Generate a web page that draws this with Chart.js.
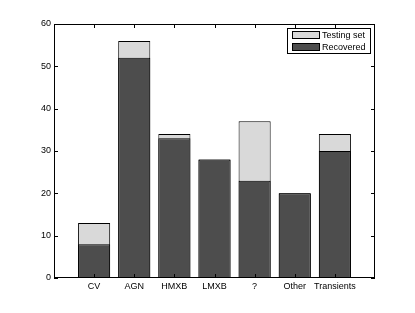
<!DOCTYPE html>
<html>
<head>
<meta charset="utf-8">
<script src="https://cdn.jsdelivr.net/npm/chart.js@4"></script>
<style>
  html, body { margin: 0; padding: 0; background: #fff; }
  #wrap { width: 415px; height: 313px; }
</style>
</head>
<body>
<div id="wrap"><canvas id="myChart" width="415" height="313"></canvas></div>
<script>
const categories = ['CV', 'AGN', 'HMXB', 'LMXB', '?', 'Other', 'Transients']
const testingSet = [13, 56, 34, 28, 37, 20, 34]
const recovered = [8, 52, 33, 28, 23, 20, 30]
const yTicks = [0, 10, 20, 30, 40, 50, 60]

const font = { family: 'Liberation Sans, Arial, sans-serif', size: 9 }

// frame + inward ticks, matlab style
const framePlugin = {
    id: 'frame',
    afterDraw(chart) {
        const { ctx, chartArea: a, scales } = chart
        ctx.save()
        ctx.strokeStyle = '#000'
        ctx.lineWidth = 1
        ctx.strokeRect(a.left + 0.5, a.top + 0.5, a.right - a.left - 1, a.bottom - a.top - 1)
        ctx.beginPath()
        yTicks.forEach(v => {
            const y = Math.round(scales.y.getPixelForValue(v)) + 0.5
            ctx.moveTo(a.left, y); ctx.lineTo(a.left + 4, y)
            ctx.moveTo(a.right, y); ctx.lineTo(a.right - 4, y)
        })
        categories.forEach((c, i) => {
            const x = Math.round(scales.x.getPixelForValue(i + 1)) + 0.5
            ctx.moveTo(x, a.bottom); ctx.lineTo(x, a.bottom - 4)
            ctx.moveTo(x, a.top); ctx.lineTo(x, a.top + 4)
        })
        ctx.stroke()

        // legend box inside plot, top right
        const bw = 84, bh = 26
        const bx = a.right - 4 - bw, by = a.top + 4
        ctx.fillStyle = '#fff'
        ctx.fillRect(bx, by, bw, bh)
        ctx.strokeRect(bx + 0.5, by + 0.5, bw - 1, bh - 1)
        ctx.font = font.size + 'px ' + font.family
        ctx.textBaseline = 'middle'
        chart.data.datasets.forEach((ds, i) => {
            const cy = by + 7 + i * 12
            ctx.fillStyle = ds.backgroundColor
            ctx.fillRect(bx + 5, cy - 4, 28, 8)
            ctx.strokeRect(bx + 5.5, cy - 3.5, 27, 7)
            ctx.fillStyle = '#000'
            ctx.fillText(ds.label, bx + 35, cy + 0.5)
        })
        ctx.restore()
    }
}

const data = {
    datasets: [{
        label: 'Testing set',
        data: testingSet.map((v, i) => ({ x: i + 1, y: v })),
        backgroundColor: '#d9d9d9',
        borderColor: '#000',
        borderWidth: 1,
        grouped: false,
        order: 2
    }, {
        label: 'Recovered',
        data: recovered.map((v, i) => ({ x: i + 1, y: v })),
        backgroundColor: '#4d4d4d',
        borderColor: '#000',
        borderWidth: 1,
        grouped: false,
        order: 1
    }]
}

const config = {
    type: 'bar',
    data,
    plugins: [framePlugin],
    options: {
        responsive: false,
        animation: false,
        barPercentage: 0.8,
        categoryPercentage: 1,
        layout: { padding: { left: 0, top: 24, right: 40, bottom: 0 } },
        scales: {
            x: {
                type: 'linear',
                min: 0,
                max: 8,
                offset: false,
                grid: { display: false, drawTicks: false, tickLength: 0 },
                border: { display: false },
                afterFit: s => { s.height = 35 },
                ticks: {
                    stepSize: 1,
                    autoSkip: false,
                    maxRotation: 0,
                    padding: 3,
                    color: '#000',
                    font,
                    callback: v => categories[v - 1] || ''
                }
            },
            y: {
                min: 0,
                max: 60,
                grid: { display: false, drawTicks: false, tickLength: 0 },
                border: { display: false },
                afterFit: s => { s.width = 54 },
                ticks: { stepSize: 10, padding: 3, color: '#000', font }
            }
        },
        plugins: {
            legend: { display: false },
            tooltip: { enabled: false }
        }
    }
}

const myChart = new Chart(document.getElementById('myChart'), config)
</script>
</body>
</html>
